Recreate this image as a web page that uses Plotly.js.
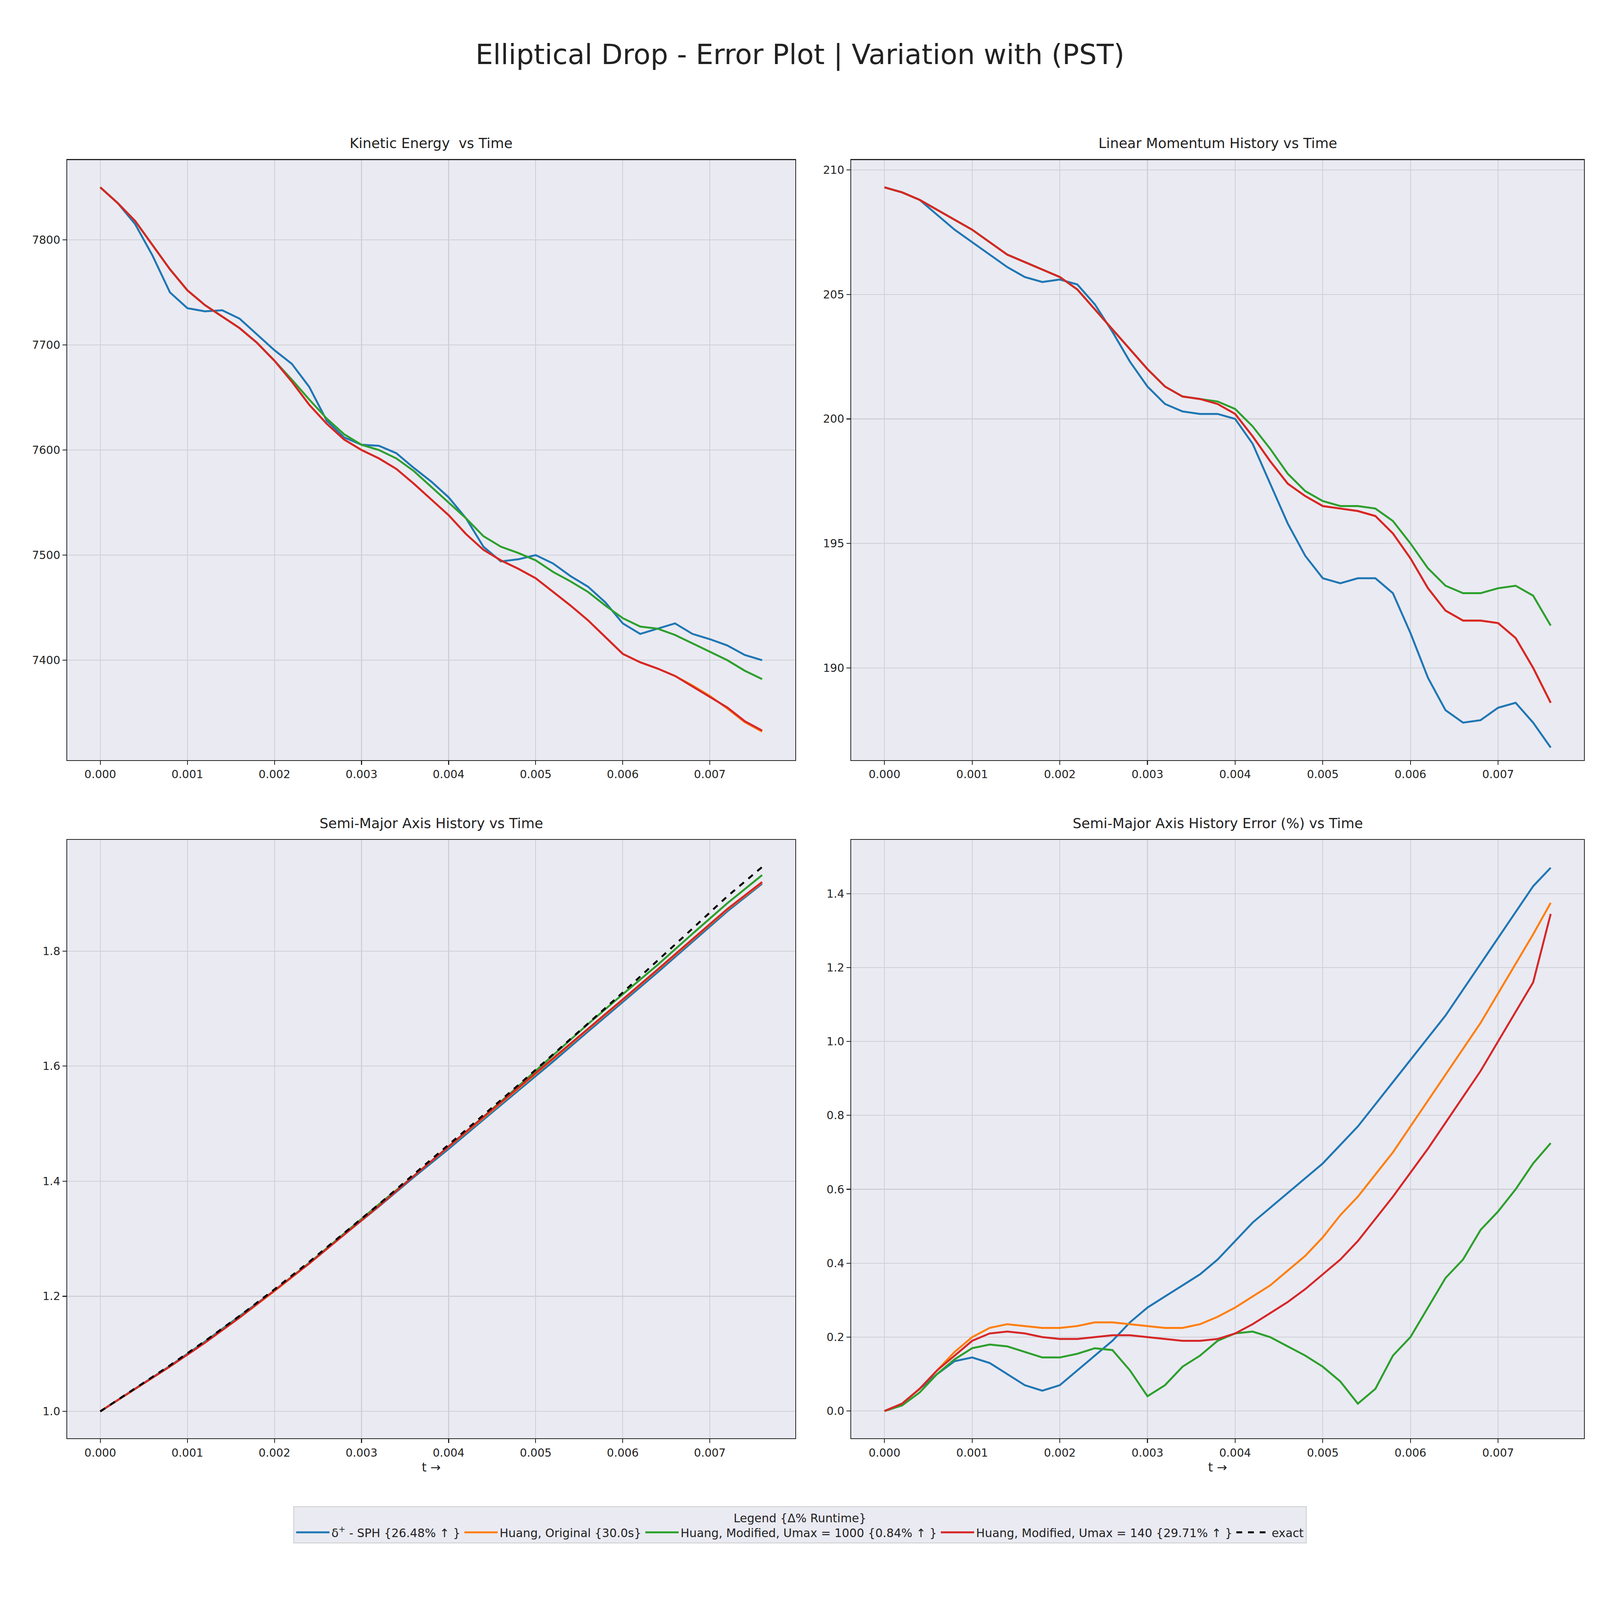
<!DOCTYPE html>
<html><head><meta charset="utf-8">
<script src="https://cdn.plot.ly/plotly-3.0.1.min.js"></script>
<style>html,body{margin:0;padding:0;overflow:hidden}</style></head>
<body><div id="c"></div>
<script>
// time grid (s), step 0.0002
const t = [0,0.0002,0.0004,0.0006,0.0008,0.001,0.0012,0.0014,0.0016,0.0018,0.002,0.0022,0.0024,0.0026,0.0028,0.003,0.0032,0.0034,0.0036,0.0038,0.004,0.0042,0.0044,0.0046,0.0048,0.005,0.0052,0.0054,0.0056,0.0058,0.006,0.0062,0.0064,0.0066,0.0068,0.007,0.0072,0.0074,0.0076];
const tCoarse = [0,0.0004,0.0008,0.0012,0.0016,0.002,0.0024,0.0028,0.0032,0.0036,0.004,0.0044,0.0048,0.0052,0.0056,0.006,0.0064,0.0068,0.0072,0.0076];

const keBlue = [7850,7835,7815,7785,7750,7735,7732,7733,7725,7710,7695,7682,7660,7628,7612,7605,7604,7597,7583,7570,7555,7535,7508,7494,7496,7500,7492,7480,7470,7455,7435,7425,7430,7435,7425,7420,7414,7405,7400];
const keOrange = [7850,7835,7818,7795,7772,7752,7738,7727,7716,7702,7685,7665,7643,7625,7610,7600,7592,7582,7568,7553,7538,7520,7505,7495,7487,7478,7465,7452,7438,7422,7406,7398,7392,7385,7376,7366,7354,7341,7332];
const keGreen = [7850,7835,7818,7795,7772,7752,7738,7727,7716,7702,7685,7667,7648,7630,7615,7605,7600,7592,7580,7565,7550,7535,7518,7508,7502,7495,7484,7475,7465,7452,7440,7432,7430,7424,7416,7408,7400,7390,7382];
const keRed = [7850,7835,7818,7795,7772,7752,7738,7727,7716,7702,7685,7665,7643,7625,7610,7600,7592,7582,7568,7553,7538,7520,7505,7495,7487,7478,7465,7452,7438,7422,7406,7398,7392,7385,7375,7365,7355,7342,7333];

const lmBlue = [209.3,209.1,208.8,208.2,207.6,207.1,206.6,206.1,205.7,205.5,205.6,205.4,204.6,203.5,202.3,201.3,200.6,200.3,200.2,200.2,200.0,199.0,197.4,195.8,194.5,193.6,193.4,193.6,193.6,193.0,191.4,189.6,188.3,187.8,187.9,188.4,188.6,187.8,186.8];
const lmOrange = [209.3,209.1,208.8,208.4,208.0,207.6,207.1,206.6,206.3,206.0,205.7,205.2,204.4,203.6,202.8,202.0,201.3,200.9,200.8,200.6,200.2,199.3,198.3,197.4,196.9,196.5,196.4,196.3,196.1,195.4,194.4,193.2,192.3,191.9,191.9,191.8,191.2,190.0,188.6];
const lmGreen = [209.3,209.1,208.8,208.4,208.0,207.6,207.1,206.6,206.3,206.0,205.7,205.2,204.4,203.6,202.8,202.0,201.3,200.9,200.8,200.7,200.4,199.7,198.8,197.8,197.1,196.7,196.5,196.5,196.4,195.9,195.0,194.0,193.3,193.0,193.0,193.2,193.3,192.9,191.7];
const lmRed = [209.3,209.1,208.8,208.4,208.0,207.6,207.1,206.6,206.3,206.0,205.7,205.2,204.4,203.6,202.8,202.0,201.3,200.9,200.8,200.6,200.2,199.3,198.3,197.4,196.9,196.5,196.4,196.3,196.1,195.4,194.4,193.2,192.3,191.9,191.9,191.8,191.2,190.0,188.6];

const saExact = [1.0,1.04,1.08,1.122,1.166,1.212,1.26,1.31,1.36,1.412,1.463,1.515,1.567,1.62,1.674,1.728,1.783,1.839,1.895,1.946];
const saBlue = [1.0,1.039,1.079,1.121,1.165,1.21,1.258,1.307,1.356,1.407,1.456,1.507,1.557,1.608,1.66,1.711,1.763,1.816,1.869,1.917];
const saOrange = [1.0,1.039,1.078,1.119,1.163,1.209,1.257,1.307,1.357,1.409,1.459,1.51,1.561,1.612,1.663,1.715,1.767,1.819,1.872,1.919];
const saGreen = [1.0,1.039,1.078,1.12,1.164,1.21,1.258,1.309,1.36,1.409,1.46,1.512,1.565,1.619,1.673,1.725,1.776,1.83,1.883,1.932];
const saRed = [1.0,1.039,1.078,1.119,1.163,1.21,1.257,1.307,1.357,1.409,1.46,1.511,1.562,1.613,1.664,1.716,1.768,1.82,1.873,1.92];

const erBlue = [0,0.02,0.06,0.1,0.135,0.145,0.13,0.1,0.07,0.055,0.07,0.11,0.15,0.19,0.24,0.28,0.31,0.34,0.37,0.41,0.46,0.51,0.55,0.59,0.63,0.67,0.72,0.77,0.83,0.89,0.95,1.01,1.07,1.14,1.21,1.28,1.35,1.42,1.47];
const erOrange = [0,0.02,0.06,0.11,0.16,0.2,0.225,0.235,0.23,0.225,0.225,0.23,0.24,0.24,0.235,0.23,0.225,0.225,0.235,0.255,0.28,0.31,0.34,0.38,0.42,0.47,0.53,0.58,0.64,0.70,0.77,0.84,0.91,0.98,1.05,1.13,1.21,1.29,1.375];
const erGreen = [0,0.015,0.05,0.1,0.14,0.17,0.18,0.175,0.16,0.145,0.145,0.155,0.17,0.165,0.11,0.04,0.07,0.12,0.15,0.19,0.21,0.215,0.2,0.175,0.15,0.12,0.08,0.02,0.06,0.15,0.2,0.28,0.36,0.41,0.49,0.54,0.6,0.67,0.725];
const erRed = [0,0.02,0.06,0.11,0.15,0.19,0.21,0.215,0.21,0.2,0.195,0.195,0.2,0.205,0.205,0.2,0.195,0.19,0.19,0.195,0.21,0.235,0.265,0.295,0.33,0.37,0.41,0.46,0.52,0.58,0.645,0.71,0.78,0.85,0.92,1.0,1.08,1.16,1.345];

const names = ['δ<sup>+</sup> - SPH {26.48% ↑ }','Huang, Original {30.0s}','Huang, Modified, Umax = 1000 {0.84% ↑ }','Huang, Modified, Umax = 140 {29.71% ↑ }'];
const cols = ['#1f77b4','#ff7f0e','#2ca02c','#d62728'];

// size to the real viewport, scale everything from a 5760-wide design
const PW = window.innerWidth || 5760, PH = window.innerHeight || 4320;
const s = PW / 5760;
const W = 7 * s;

function series(x, ys, xa, ya, legend) {
  return ys.map((y, i) => ({x, y, xaxis: xa, yaxis: ya, type: 'scatter', mode: 'lines',
    name: names[i], showlegend: legend, line: {color: cols[i], width: W}}));
}
const data = [
  ...series(t, [keBlue, keOrange, keGreen, keRed], 'x', 'y', true),
  ...series(t, [lmBlue, lmOrange, lmGreen, lmRed], 'x2', 'y2', false),
  ...series(tCoarse, [saBlue, saOrange, saGreen, saRed], 'x3', 'y3', false),
  {x: tCoarse, y: saExact, xaxis: 'x3', yaxis: 'y3', type: 'scatter', mode: 'lines', name: 'exact',
   line: {color: 'black', width: W, dash: 'dash'}},
  ...series(t, [erBlue, erOrange, erGreen, erRed], 'x4', 'y4', false),
];

const F = 'DejaVu Sans';
const tf = {family: F, size: 40 * s, color: '#222'};
function xax(dom, anchor, title) {
  const a = {domain: dom, anchor, range: [-0.00038, 0.00798], tickvals: [0,0.001,0.002,0.003,0.004,0.005,0.006,0.007],
    tickformat: '.3f', ticks: 'outside', ticklen: 14 * s, tickwidth: 3 * s, tickcolor: '#222', tickfont: tf,
    showgrid: true, gridcolor: '#cfcfd6', gridwidth: 3 * s, zeroline: false,
    showline: true, mirror: true, linecolor: '#222', linewidth: 3 * s};
  if (title) a.title = {text: title, font: {family: F, size: 44 * s, color: '#222'}, standoff: 15 * s};
  return a;
}
function yax(dom, anchor, range, tickvals, fmt) {
  return {domain: dom, anchor, range, tickvals, tickformat: fmt, ticks: 'outside', ticklen: 14 * s, tickwidth: 3 * s,
    tickcolor: '#222', tickfont: tf, showgrid: true, gridcolor: '#cfcfd6', gridwidth: 3 * s, zeroline: false,
    showline: true, mirror: true, linecolor: '#222', linewidth: 3 * s};
}
const xl = [0.042, 0.497], xr = [0.532, 0.990], yt = [0.525, 0.900], yb = [0.101, 0.475];
const sub = (text, x, y) => ({text, x, y, xref: 'paper', yref: 'paper', xanchor: 'center', yanchor: 'bottom',
  showarrow: false, font: {family: F, size: 50 * s, color: '#222'}});

const layout = {
  width: PW, height: PH, margin: {l: 0, r: 0, t: 0, b: 0},
  paper_bgcolor: 'white', plot_bgcolor: '#eaeaf2',
  title: {text: 'Elliptical Drop - Error Plot | Variation with (PST)', x: 0.5, y: 0.966, xanchor: 'center', yanchor: 'middle',
    font: {family: F, size: 100 * s, color: '#222'}},
  xaxis: xax(xl, 'y'), yaxis: yax(yt, 'x', [7305, 7876], [7400,7500,7600,7700,7800], 'd'),
  xaxis2: xax(xr, 'y2'), yaxis2: yax(yt, 'x2', [186.3, 210.4], [190,195,200,205,210], 'd'),
  xaxis3: xax(xl, 'y3', 't →'), yaxis3: yax(yb, 'x3', [0.953, 1.993], [1.0,1.2,1.4,1.6,1.8], '.1f'),
  xaxis4: xax(xr, 'y4', 't →'), yaxis4: yax(yb, 'x4', [-0.074, 1.545], [0,0.2,0.4,0.6,0.8,1.0,1.2,1.4], '.1f'),
  annotations: [
    sub('Kinetic Energy  vs Time', 0.2695, 0.905),
    sub('Linear Momentum History vs Time', 0.761, 0.905),
    sub('Semi-Major Axis History vs Time', 0.2695, 0.48),
    sub('Semi-Major Axis History Error (%) vs Time', 0.761, 0.48),
  ],
  showlegend: true,
  legend: {orientation: 'h', x: 0.5, xanchor: 'center', y: 0.047, yanchor: 'middle',
    bgcolor: '#eaeaf2', bordercolor: '#cccccc', borderwidth: 3 * s,
    font: {family: F, size: 42 * s, color: '#222'},
    title: {text: 'Legend {Δ% Runtime}', side: 'top center', font: {family: F, size: 42 * s, color: '#222'}},
    itemwidth: 120 * s},
};
Plotly.newPlot('c', data, layout, {staticPlot: true});
</script></body></html>
